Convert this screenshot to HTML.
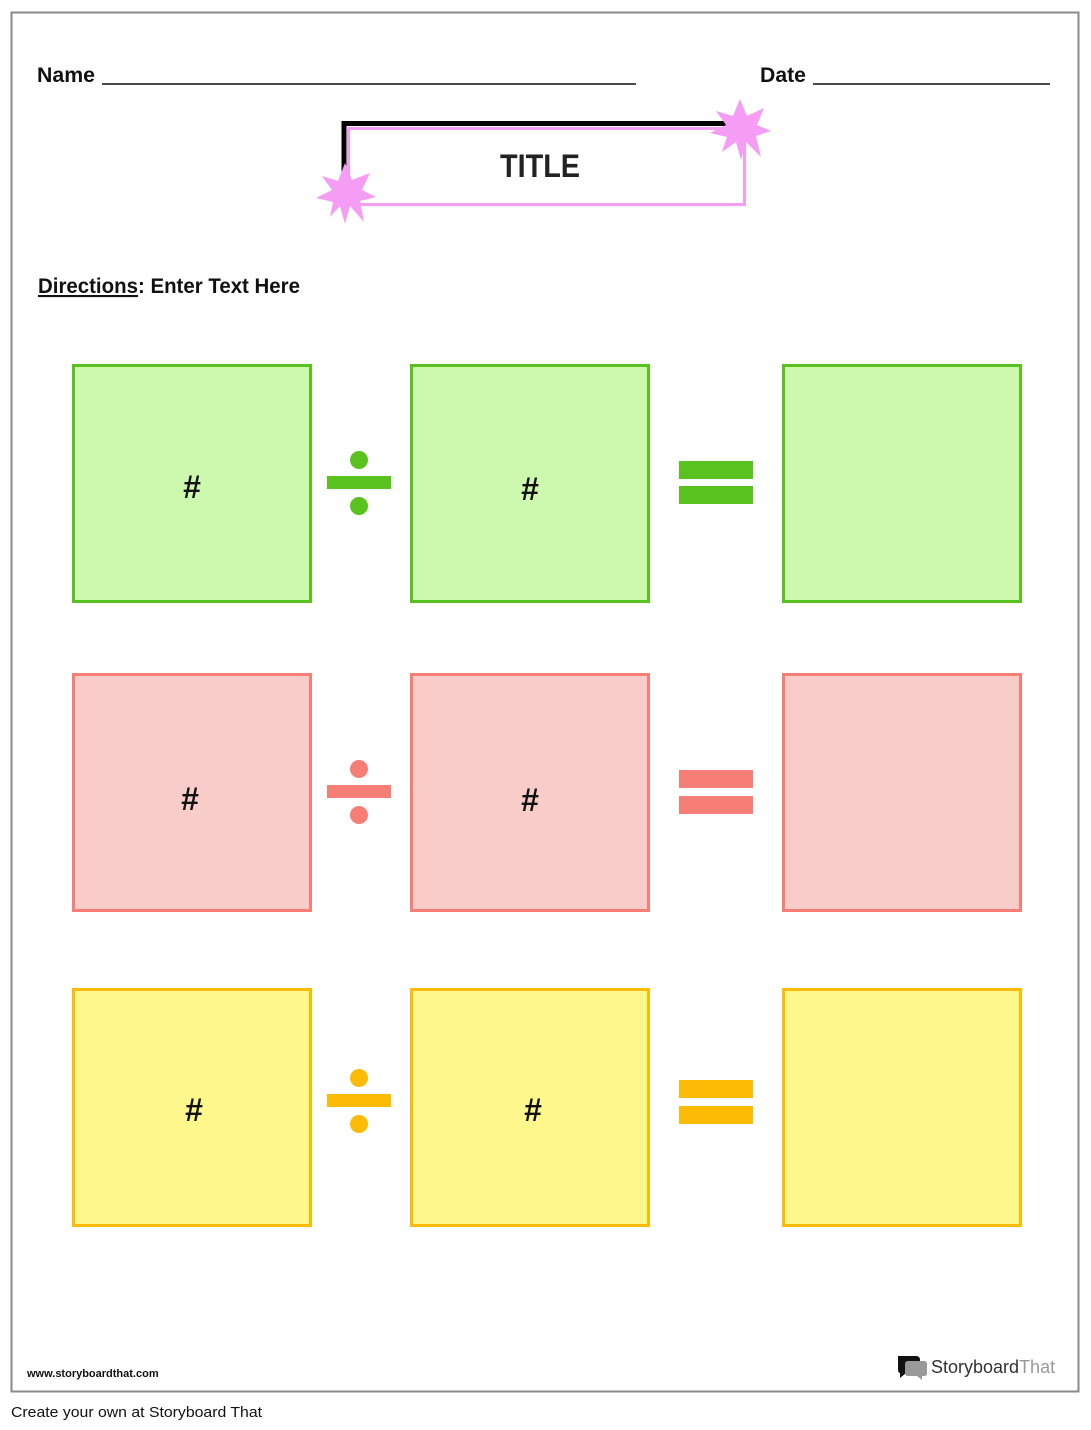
<!DOCTYPE html>
<html><head><meta charset="utf-8"><style>
body{margin:0;background:#fff;}
svg{display:block;font-family:"Liberation Sans",sans-serif;}
</style></head><body>
<svg width="1091" height="1430" viewBox="0 0 1091 1430" xmlns="http://www.w3.org/2000/svg">
<rect x="11.5" y="12.5" width="1067" height="1379" fill="#fff" stroke="#8a8a8a" stroke-width="2"/>
<text x="37" y="82" font-size="21" font-weight="bold" fill="#111" textLength="58" lengthAdjust="spacingAndGlyphs">Name</text>
<line x1="102" y1="84" x2="636" y2="84" stroke="#111" stroke-width="1.5"/>
<text x="760" y="82" font-size="21" font-weight="bold" fill="#111" textLength="46" lengthAdjust="spacingAndGlyphs">Date</text>
<line x1="813" y1="84" x2="1050" y2="84" stroke="#111" stroke-width="1.5"/>
<path d="M344 175 V123.5 H728" fill="none" stroke="#000" stroke-width="5"/>
<rect x="348.5" y="128.5" width="396" height="76" fill="#fff" stroke="#f59cf5" stroke-width="3"/>
<text x="500" y="177" font-size="32" font-weight="bold" fill="#222" textLength="80" lengthAdjust="spacingAndGlyphs">TITLE</text>
<polygon fill="#f59cf5" points="345,163 352,180 370,173 362,190 376,197 360,201 364,222 350,206 345,224 340,206 330,217 333,202 316,198 332,190 322,176 338,181"/>
<polygon fill="#f59cf5" points="740,99 747,116 764,108 757,125 771,131 756,136 761,157 746,142 741,160 736,142 722,152 727,137 710,133 726,125 716,111 733,116"/>
<text x="38" y="293" font-size="21" font-weight="bold" fill="#111" textLength="262" lengthAdjust="spacingAndGlyphs"><tspan text-decoration="underline">Directions</tspan>: Enter Text Here</text>
<g stroke-width="3">
<rect x="73.5" y="365.5" width="237" height="236" fill="#ccf9ae" stroke="#5ac21f"/>
<rect x="411.5" y="365.5" width="237" height="236" fill="#ccf9ae" stroke="#5ac21f"/>
<rect x="783.5" y="365.5" width="237" height="236" fill="#ccf9ae" stroke="#5ac21f"/>
<rect x="73.5" y="674.5" width="237" height="236" fill="#f8ccc8" stroke="#f77e76"/>
<rect x="411.5" y="674.5" width="237" height="236" fill="#f8ccc8" stroke="#f77e76"/>
<rect x="783.5" y="674.5" width="237" height="236" fill="#f8ccc8" stroke="#f77e76"/>
<rect x="73.5" y="989.5" width="237" height="236" fill="#fef78c" stroke="#fdbb05"/>
<rect x="411.5" y="989.5" width="237" height="236" fill="#fef78c" stroke="#fdbb05"/>
<rect x="783.5" y="989.5" width="237" height="236" fill="#fef78c" stroke="#fdbb05"/>
</g>
<g font-size="32" font-weight="bold" fill="#111" text-anchor="middle">
<text x="192" y="498">#</text><text x="530" y="500">#</text>
<text x="190" y="810">#</text><text x="530" y="811">#</text>
<text x="194" y="1121">#</text><text x="533" y="1121">#</text>
</g>
<g fill="#5ac21f"><circle cx="359" cy="460" r="9"/><rect x="327" y="476" width="64" height="13"/><circle cx="359" cy="506" r="9"/><rect x="679" y="461" width="74" height="18"/><rect x="679" y="486" width="74" height="18"/></g>
<g fill="#f77e76"><circle cx="359" cy="769" r="9"/><rect x="327" y="785" width="64" height="13"/><circle cx="359" cy="815" r="9"/><rect x="679" y="770" width="74" height="18"/><rect x="679" y="796" width="74" height="18"/></g>
<g fill="#fdbb05"><circle cx="359" cy="1078" r="9"/><rect x="327" y="1094" width="64" height="13"/><circle cx="359" cy="1124" r="9"/><rect x="679" y="1080" width="74" height="18"/><rect x="679" y="1106" width="74" height="18"/></g>
<text x="27" y="1377" font-size="11" font-weight="bold" fill="#111">www.storyboardthat.com</text>
<path d="M898 1356 h18 q4 0 4 4 v9 q0 4 -4 4 h-10 l-6 5 v-5 q-2 0 -2 -4 z" fill="#111"/>
<path d="M908 1361 h16 q3 0 3 3 v9 q0 3 -3 3 h-2 v4 l-5 -4 h-9 q-3 0 -3 -3 v-9 q0 -3 3 -3 z" fill="#999"/>
<text x="931" y="1373" font-size="18" fill="#333">Storyboard<tspan fill="#999">That</tspan></text>
<text x="11" y="1417" font-size="15" fill="#111" textLength="251" lengthAdjust="spacingAndGlyphs">Create your own at Storyboard That</text>
</svg>
</body></html>
